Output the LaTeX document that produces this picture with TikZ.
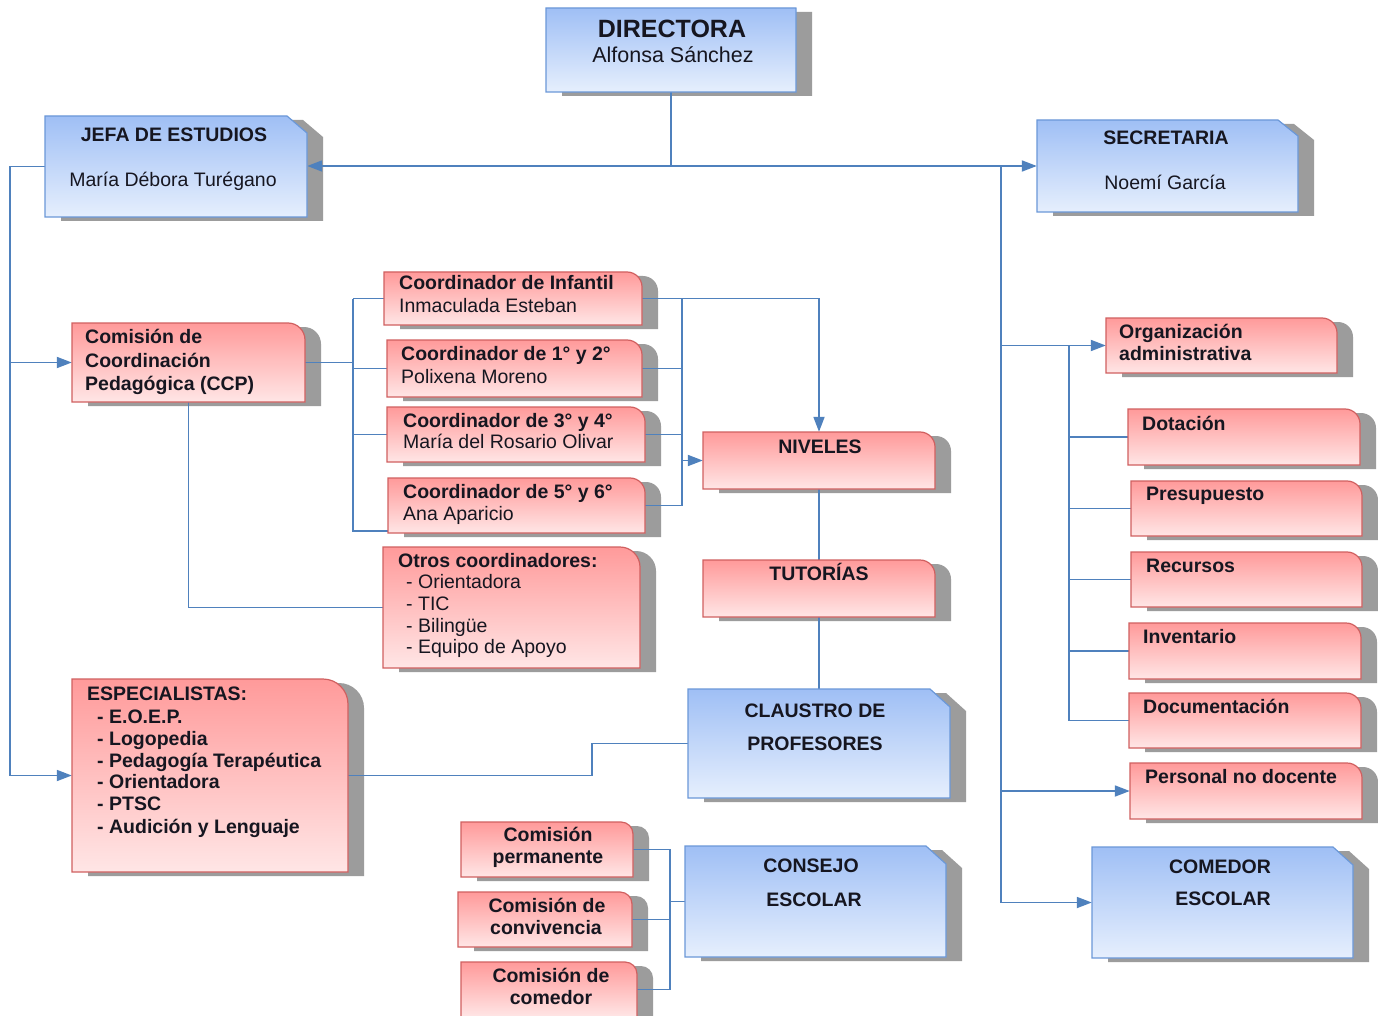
\documentclass[tikz,border=0pt]{standalone}
\usepackage{fontspec}
\setmainfont{Liberation Sans}
\usetikzlibrary{arrows.meta,fit,calc}
\definecolor{connc}{HTML}{4F81BD}
\definecolor{shadowc}{HTML}{9C9C9C}
\definecolor{bluetop}{HTML}{9FBFF5}
\definecolor{bluebot}{HTML}{E6EFFD}
\definecolor{blueline}{HTML}{6B98D8}
\definecolor{redtop}{HTML}{FF9A9A}
\definecolor{redbot}{HTML}{FFE6E6}
\definecolor{redline}{HTML}{D06060}
\definecolor{txt}{HTML}{161620}
\pgfdeclarelayer{back}
\pgfdeclarelayer{shadow}
\pgfdeclarelayer{bg}
\pgfsetlayers{back,shadow,bg,main}
\tikzset{
  link/.style={draw=connc, line width=1.8pt},
  arr/.style={-{Triangle[length=15pt,width=11pt]}},
  tb/.style={font=\fontsize{19.5}{22}\selectfont\bfseries, text=txt, inner sep=0pt, anchor=base west},
  tr/.style={font=\fontsize{19.5}{22}\selectfont, text=txt, inner sep=0pt, anchor=base west},
  ctr/.style={anchor=base},
}
% red box with rounded top-right corner: name, x1, y1, x2, y2, radius
\newcommand\redbox[6]{%
  \begin{pgfonlayer}{shadow}
  \fill[shadowc] ({#2+16},{#3+4}) -- ({#4+16-#6},{#3+4}) .. controls ({#4+16-0.448*#6},{#3+4}) and ({#4+16},{#3+4+0.448*#6}) .. ({#4+16},{#3+4+#6}) -- ({#4+16},{#5+4}) -- ({#2+16},{#5+4}) -- cycle;
  \end{pgfonlayer}
  \shadedraw[top color=redtop,bottom color=redbot,draw=redline,line width=1.2pt] (#2,#3) -- ({#4-#6},#3) .. controls ({#4-0.448*#6},#3) and (#4,{#3+0.448*#6}) .. (#4,{#3+#6}) -- (#4,#5) -- (#2,#5) -- cycle;
  \node[fit={(#2,#3) (#4,#5)},inner sep=0pt] (#1) {};
}
% blue box with chamfered top-right corner: name, x1, y1, x2, y2, cx, cy
\newcommand\bluebox[7]{%
  \begin{pgfonlayer}{shadow}
  \fill[shadowc] ({#2+16},{#3+4}) -- ({#4+16-#6},{#3+4}) -- ({#4+16},{#3+4+#7}) -- ({#4+16},{#5+4}) -- ({#2+16},{#5+4}) -- cycle;
  \end{pgfonlayer}
  \shadedraw[top color=bluetop,bottom color=bluebot,draw=blueline,line width=1.2pt] (#2,#3) -- ({#4-#6},#3) -- (#4,{#3+#7}) -- (#4,#5) -- (#2,#5) -- cycle;
  \node[fit={(#2,#3) (#4,#5)},inner sep=0pt] (#1) {};
}
\begin{document}
\begin{tikzpicture}[x=1pt,y=-1pt]
\useasboundingbox (0,0) rectangle (1378,1016);
\begin{pgfonlayer}{back}
\fill[white] (0,0) rectangle (1378,1016);
\end{pgfonlayer}

% ---------- boxes ----------
\bluebox{dir}{546}{8}{796}{92}{0.01}{0.01}
\bluebox{jefa}{45}{116}{307}{217}{20}{17}
\bluebox{sec}{1037}{120}{1298}{212}{20}{16}
\bluebox{cla}{688}{689}{950}{798}{20}{18}
\bluebox{cons}{685}{846}{946}{957}{20}{18}
\bluebox{com}{1092}{847}{1353}{958}{20}{18}

\redbox{ccp}{72}{323}{305}{402}{17}
\redbox{ci}{384}{272}{642}{325}{15}
\redbox{c12}{387}{340}{642}{397}{15}
\redbox{c34}{387}{407}{645}{462}{15}
\redbox{c56}{388}{478}{645}{533}{15}
\redbox{otros}{383}{547}{640}{668}{20}
\redbox{niv}{703}{432}{935}{489}{15}
\redbox{tut}{703}{560}{935}{617}{15}
\redbox{esp}{72}{679}{348}{872}{25}
\redbox{cp}{461}{822}{633}{877}{12}
\redbox{cv}{458}{892}{632}{947}{12}
\redbox{cm}{461}{962}{637}{1017}{12}
\redbox{org}{1106}{318}{1337}{373}{15}
\redbox{dot}{1128}{409}{1360}{465}{15}
\redbox{pre}{1131}{481}{1362}{536}{15}
\redbox{rec}{1131}{552}{1362}{607}{15}
\redbox{inv}{1129}{623}{1361}{679}{15}
\redbox{doc}{1129}{693}{1361}{748}{15}
\redbox{pnd}{1130}{763}{1362}{819}{15}

% ---------- texts ----------
\node[tb,ctr,font=\fontsize{25}{28}\selectfont\bfseries] (dirT1) at (672,38) {DIRECTORA};
\node[tr,ctr,font=\fontsize{21.5}{24}\selectfont] (dirT2) at (673,63) {Alfonsa Sánchez};
\node[tb,ctr] (jefaT1) at (174,142) {JEFA DE ESTUDIOS};
\node[tr,ctr] (jefaT2) at (173,187) {María Débora Turégano};
\node[tb,ctr] (secT1) at (1166,145) {SECRETARIA};
\node[tr,ctr] (secT2) at (1165,190) {Noemí García};

\node[tb] (ccpT1) at (85,343) {Comisión de};
\node[tb] (ccpT2) at (85,367) {Coordinación};
\node[tb] (ccpT3) at (85,390) {Pedagógica (CCP)};

\node[tb] (ciT1) at (399,290) {Coordinador de Infantil};
\node[tr] (ciT2) at (399,312) {Inmaculada Esteban};
\node[tb] (c12T1) at (401,360) {Coordinador de 1° y 2°};
\node[tr] (c12T2) at (401,383) {Polixena Moreno};
\node[tb] (c34T1) at (403,427) {Coordinador de 3° y 4°};
\node[tr] (c34T2) at (403,448) {María del Rosario Olivar};
\node[tb] (c56T1) at (403,498) {Coordinador de 5° y 6°};
\node[tr] (c56T2) at (403,520) {Ana Aparicio};

\node[tb] (otT1) at (398,567) {Otros coordinadores:};
\node[tr] (otT2) at (406,588) {- Orientadora};
\node[tr] (otT3) at (406,610) {- TIC};
\node[tr] (otT4) at (406,632) {- Bilingüe};
\node[tr] (otT5) at (406,653) {- Equipo de Apoyo};

\node[tb,ctr] (nivT) at (820,453) {NIVELES};
\node[tb,ctr] (tutT) at (819,580) {TUTORÍAS};
\node[tb,ctr] (claT1) at (815,717) {CLAUSTRO DE};
\node[tb,ctr] (claT2) at (815,750) {PROFESORES};

\node[tb] (espT1) at (87,700) {ESPECIALISTAS:};
\node[tb] (espT2) at (97,723) {- E.O.E.P.};
\node[tb] (espT3) at (97,745) {- Logopedia};
\node[tb] (espT4) at (97,767) {- Pedagogía Terapéutica};
\node[tb] (espT5) at (97,788) {- Orientadora};
\node[tb] (espT6) at (97,810) {- PTSC};
\node[tb] (espT7) at (97,833) {- Audición y Lenguaje};

\node[tb,ctr] (cpT1) at (548,841) {Comisión};
\node[tb,ctr] (cpT2) at (548,863) {permanente};
\node[tb,ctr] (cvT1) at (547,912) {Comisión de};
\node[tb,ctr] (cvT2) at (546,934) {convivencia};
\node[tb,ctr] (cmT1) at (551,982) {Comisión de};
\node[tb,ctr] (cmT2) at (551,1004) {comedor};

\node[tb,ctr] (consT1) at (811,872) {CONSEJO};
\node[tb,ctr] (consT2) at (814,906) {ESCOLAR};
\node[tb,ctr] (comT1) at (1220,873) {COMEDOR};
\node[tb,ctr] (comT2) at (1223,905) {ESCOLAR};

\node[tb] (orgT1) at (1119,338) {Organización};
\node[tb] (orgT2) at (1119,360) {administrativa};
\node[tb] (dotT) at (1142,430) {Dotación};
\node[tb] (preT) at (1146,500) {Presupuesto};
\node[tb] (recT) at (1146,572) {Recursos};
\node[tb] (invT) at (1143,643) {Inventario};
\node[tb] (docT) at (1143,713) {Documentación};
\node[tb] (pndT) at (1145,783) {Personal no docente};

% ---------- connectors ----------
\begin{pgfonlayer}{bg}
% top
\draw[link] (dir.south) -- (dir.south |- sec.west) coordinate (hub);
\draw[link,arr] (hub) -- (hub -| jefa.east);
\draw[link,arr] (hub) -- (sec.west);
% right trunk
\coordinate (rt) at (1001,0);
\draw[link] (rt |- sec.west) -- (rt |- com.west);
\draw[link,arr] (rt |- org.west) -- (org.west);
\draw[link,arr] (rt |- pnd.west) -- (pnd.west);
\draw[link,arr] (rt |- com.west) -- (com.west);
\coordinate (rt2) at (1069,0);
\draw[link] (rt2 |- org.west) -- (rt2 |- doc.west);
\draw[link] (rt2 |- dot.west) -- (dot.west);
\draw[link] (rt2 |- pre.west) -- (pre.west);
\draw[link] (rt2 |- rec.west) -- (rec.west);
\draw[link] (rt2 |- inv.west) -- (inv.west);
\draw[link] (rt2 |- doc.west) -- (doc.west);
% left trunk
\coordinate (lt) at (10,0);
\draw[link] (jefa.west) -- (lt |- jefa.west) -- (lt |- esp.west);
\draw[link,arr] (lt |- ccp.west) -- (ccp.west);
\draw[link,arr] (lt |- esp.west) -- (esp.west);
% CCP to coordinators
\coordinate (ct) at (353,0);
\coordinate (c56b) at (388,531);
\draw[link] (ccp.east) -- (ct |- ccp.east);
\draw[link] (ct |- ci.west) -- (ct |- c56b) -- (c56b);
\draw[link] (ct |- ci.west) -- (ci.west);
\draw[link] (ct |- c12.west) -- (c12.west);
\draw[link] (ct |- c34.west) -- (c34.west);
% coordinators to NIVELES
\coordinate (vt) at (682,0);
\draw[link,arr] (ci.east) -- (niv.north |- ci.east) -- (niv.north);
\draw[link] (vt |- ci.east) -- (vt |- c56.east);
\draw[link] (c12.east) -- (vt |- c12.east);
\draw[link] (c34.east) -- (vt |- c34.east);
\draw[link] (c56.east) -- (vt |- c56.east);
\draw[link,arr] (vt |- niv.west) -- (niv.west);
\draw[link] (niv.south) -- (tut.north);
\draw[link] (tut.south) -- (cla.north);
% CCP to otros
\draw[link] (ccp.south) -- (ccp.south |- otros.west) -- (otros.west);
% especialistas to claustro
\coordinate (ej) at (592,0);
\draw[link] (esp.east) -- (ej |- esp.east) -- (ej |- cla.west) -- (cla.west);
% comisiones to consejo
\coordinate (kt) at (670,0);
\draw[link] (cp.east) -- (kt |- cp.east) -- (kt |- cm.east) -- (cm.east);
\draw[link] (cv.east) -- (kt |- cv.east);
\draw[link] (kt |- cons.west) -- (cons.west);
\end{pgfonlayer}
\end{tikzpicture}
\end{document}
